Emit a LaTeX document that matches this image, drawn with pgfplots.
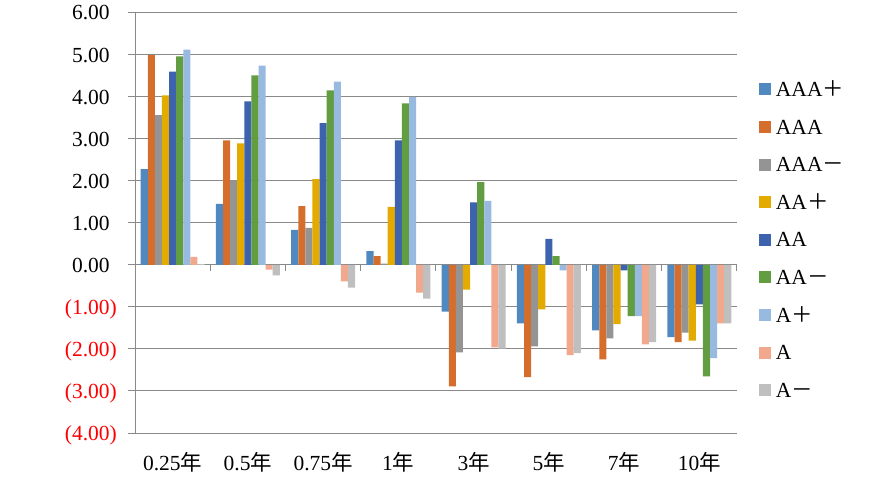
\documentclass[border=0pt]{standalone}
\usepackage{pgfplots}
\pgfplotsset{compat=1.18}
\usepackage{fontspec}
\setmainfont{Liberation Serif}
\newfontfamily\cjk{Noto Sans CJK SC}
\definecolor{c1}{RGB}{79,137,191}
\definecolor{c2}{RGB}{213,110,44}
\definecolor{c3}{RGB}{148,148,148}
\definecolor{c4}{RGB}{227,170,0}
\definecolor{c5}{RGB}{62,99,174}
\definecolor{c6}{RGB}{99,157,66}
\definecolor{c7}{RGB}{152,186,224}
\definecolor{c8}{RGB}{241,168,140}
\definecolor{c9}{RGB}{191,191,191}
\definecolor{gridgray}{RGB}{137,137,137}
\newcommand{\fs}{\fontsize{21.5}{25}\selectfont}
\newcommand{\negv}[1]{\textcolor{red}{(#1)}}
\newcommand{\posv}[1]{#1\phantom{)}}
\begin{document}
\fs
\begin{tikzpicture}
\useasboundingbox (0pt,0pt) rectangle (870pt,480pt);
\begin{axis}[
  at={(135pt,47pt)}, anchor=south west,
  scale only axis, width=602pt, height=420.3pt,
  xmin=-0.5, xmax=7.5, ymin=-4, ymax=6,
  axis lines*=left,
  x axis line style={draw=none},
  y axis line style={-, draw=gridgray, line width=1pt},
  ymajorgrids, major grid style={draw=gridgray, line width=1pt},
  tick align=outside, major tick length=7pt,
  ytick={-4,-3,...,6},
  yticklabels={\negv{4.00},\negv{3.00},\negv{2.00},\negv{1.00},\posv{0.00},\posv{1.00},\posv{2.00},\posv{3.00},\posv{4.00},\posv{5.00},\posv{6.00}},
  ytick style={draw=gridgray, line width=1pt},
  xtick={0,...,7},
  xticklabels={{0.25{\cjk 年}},{0.5{\cjk 年}},{0.75{\cjk 年}},{1{\cjk 年}},{3{\cjk 年}},{5{\cjk 年}},{7{\cjk 年}},{10{\cjk 年}}},
  xtick style={draw=none},
  every tick label/.append style={font=\fs},
  /pgf/number format/assume math mode=true,
  yticklabel style={anchor=base east, inner sep=0pt, xshift=-11pt, yshift=-7.3pt},
  xticklabel style={anchor=base, inner sep=0pt, yshift=-30pt},
  ybar=0pt, bar width=7.1pt,
  every axis plot post/.append style={draw=none, legend image code/.code={\fill[##1] (0pt,-6pt) rectangle (12pt,6pt);}},
  legend cell align=left,
  legend style={draw=none, fill=none, inner sep=0pt, outer sep=0pt,
    at={(1.0365,0.4597)}, anchor=west, font=\fs, row sep=23.4pt,
    nodes={inner sep=0pt, inner xsep=5pt, text height=14.2pt, text depth=0pt}},
]
\addplot[fill=c1] coordinates {(0,2.28) (1,1.45) (2,0.83) (3,0.33) (4,-1.11) (5,-1.39) (6,-1.56) (7,-1.72)};
\addplot[fill=c2] coordinates {(0,4.99) (1,2.96) (2,1.40) (3,0.21) (4,-2.89) (5,-2.67) (6,-2.25) (7,-1.84)};
\addplot[fill=c3] coordinates {(0,3.56) (1,2.01) (2,0.88) (3,0.03) (4,-2.08) (5,-1.94) (6,-1.75) (7,-1.61)};
\addplot[fill=c4] coordinates {(0,4.03) (1,2.89) (2,2.04) (3,1.38) (4,-0.59) (5,-1.06) (6,-1.41) (7,-1.80)};
\addplot[fill=c5] coordinates {(0,4.60) (1,3.89) (2,3.37) (3,2.96) (4,1.49) (5,0.62) (6,-0.13) (7,-0.94)};
\addplot[fill=c6] coordinates {(0,4.96) (1,4.51) (2,4.15) (3,3.84) (4,1.97) (5,0.21) (6,-1.22) (7,-2.65)};
\addplot[fill=c7] coordinates {(0,5.12) (1,4.74) (2,4.36) (3,4.00) (4,1.52) (5,-0.13) (6,-1.22) (7,-2.22)};
\addplot[fill=c8] coordinates {(0,0.19) (1,-0.11) (2,-0.39) (3,-0.66) (4,-1.96) (5,-2.15) (6,-1.89) (7,-1.39)};
\addplot[fill=c9] coordinates {(0,0.02) (1,-0.25) (2,-0.54) (3,-0.80) (4,-1.99) (5,-2.10) (6,-1.84) (7,-1.39)};
\legend{AAA{\cjk ＋},AAA,AAA{\cjk －},AA{\cjk ＋},AA,AA{\cjk －},A{\cjk ＋},A,A{\cjk －}}
\pgfplotsinvokeforeach{-0.5,0.5,1.5,2.5,3.5,4.5,5.5,6.5,7.5}{
  \draw[gridgray, line width=1pt] (axis cs:#1,0) -- ++(0pt,-6pt);
}
\end{axis}
\end{tikzpicture}
\end{document}
